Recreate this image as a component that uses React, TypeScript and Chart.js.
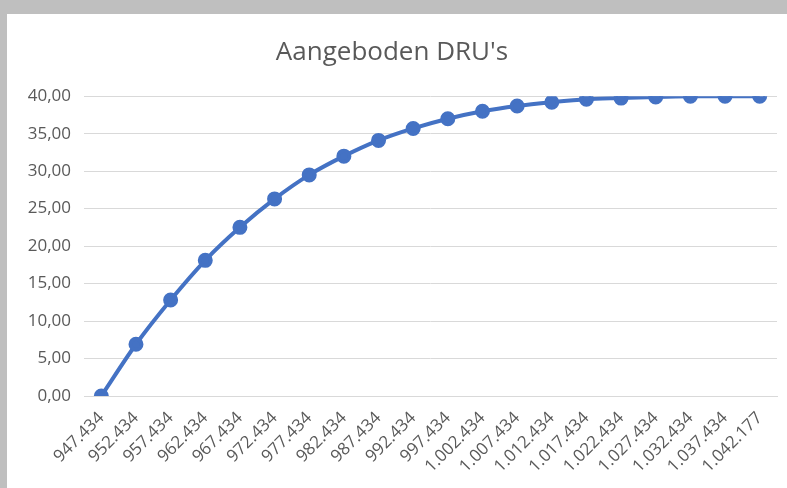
import React, { useEffect, useRef } from "react";
import { Chart, registerables } from "chart.js";

Chart.register(...registerables);

const categories = [
  "947.434", "952.434", "957.434", "962.434", "967.434", "972.434", "977.434",
  "982.434", "987.434", "992.434", "997.434", "1.002.434", "1.007.434",
  "1.012.434", "1.017.434", "1.022.434", "1.027.434", "1.032.434",
  "1.037.434", "1.042.177",
];
const druValues = [
  0, 6.9, 12.8, 18.1, 22.5, 26.3, 29.5, 32.0, 34.1, 35.7, 37.0, 38.0, 38.7,
  39.2, 39.6, 39.75, 39.9, 40.0, 40.0, 40.0,
];
const titleText = "Aangeboden DRU's";

export default function App() {
  const ref = useRef<HTMLCanvasElement>(null);
  useEffect(() => {
    document.body.style.margin = "0";
    const ctx = ref.current!;
    const chart = new Chart(ctx, {
      type: "line",
      data: {
        labels: categories,
        datasets: [
          {
            data: druValues,
            borderColor: "#4472C4",
            backgroundColor: "#4472C4",
            borderWidth: 4,
            pointRadius: 5.5,
            pointBackgroundColor: "#4472C4",
            pointBorderColor: "#4472C4",
            tension: 0.3,
          },
        ],
      },
      options: {
        animation: false,
        responsive: false,
        layout: { padding: { left: 0, right: 10, top: 0, bottom: 0 } },
        plugins: {
          legend: { display: false },
          tooltip: { enabled: false },
          title: {
            display: true,
            text: titleText,
            color: "#595959",
            font: { family: "Open Sans", size: 26, weight: "normal" },
            padding: { top: 23, bottom: 28 },
          },
        },
        scales: {
          x: {
            offset: true,
            grid: { display: false, drawTicks: false },
            border: { display: true, color: "#d9d9d9", width: 1 },
            ticks: {
              color: "#595959",
              font: { family: "Open Sans", size: 17 },
              minRotation: 45,
              maxRotation: 45,
              autoSkip: false,
              padding: 12,
            },
            afterFit: (s: any) => {
              s.height = 92;
            },
          },
          y: {
            min: 0,
            max: 40,
            grid: { color: "#d9d9d9", drawTicks: false, lineWidth: 1 },
            border: { display: false },
            ticks: {
              stepSize: 5,
              color: "#595959",
              font: { family: "Open Sans", size: 17 },
              padding: 13,
              callback: (v: any) => Number(v).toFixed(2).replace(".", ","),
            },
            afterFit: (s: any) => {
              s.width = 77;
            },
          },
        },
      },
    });
    return () => chart.destroy();
  }, []);
  return (
    <div style={{ position: "relative", width: 787, height: 488, background: "#bfbfbf", overflow: "hidden" }}>
      <div style={{ position: "absolute", left: 7, top: 14, width: 780, height: 474, background: "#ffffff" }}>
        <canvas ref={ref} width={780} height={474} style={{ display: "block", width: 780, height: 474 }} />
      </div>
    </div>
  );
}
